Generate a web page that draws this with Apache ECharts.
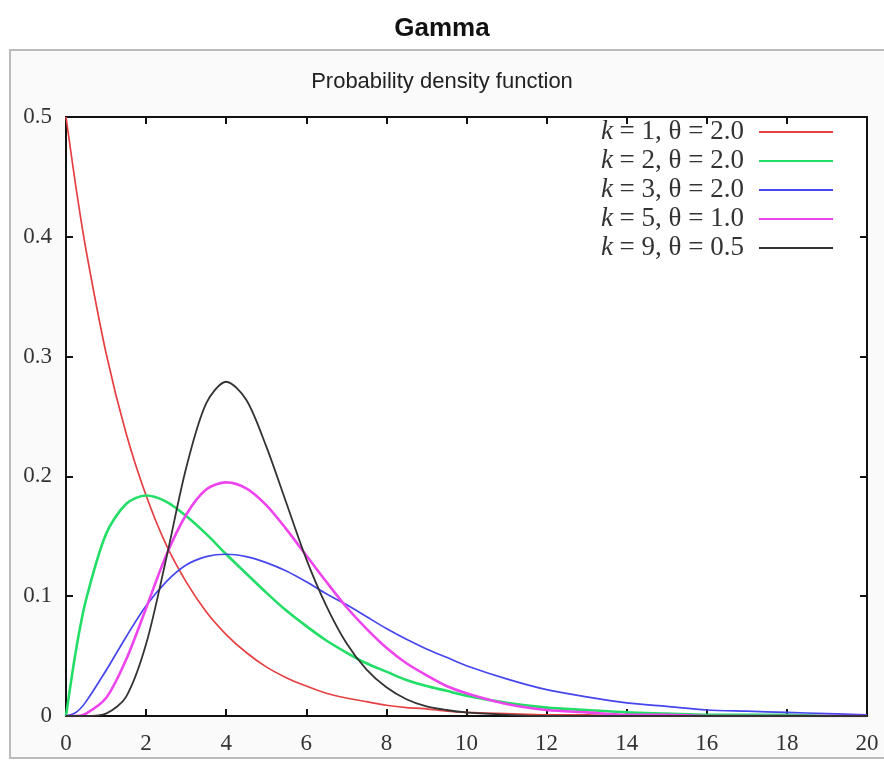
<!DOCTYPE html>
<html>
<head>
<meta charset="utf-8">
<script src="https://cdn.jsdelivr.net/npm/echarts@6/dist/echarts.min.js"></script>
<style>
html,body{margin:0;padding:0;background:#ffffff;}
#chart{width:884px;height:761px;}
</style>
</head>
<body>
<div id="chart"></div>
<script>
// x positions at which values were read
var xs = [0, 0.25, 0.5, 1, 1.5, 2, 2.5, 3, 3.5, 4, 4.5, 5, 5.5, 6, 6.5, 7, 7.5, 8, 8.5, 9, 9.5, 10, 11, 12, 13, 14, 15, 16, 17, 18, 19, 20];
var seriesNames = ['k = 1, θ = 2.0', 'k = 2, θ = 2.0', 'k = 3, θ = 2.0', 'k = 5, θ = 1.0', 'k = 9, θ = 0.5'];
var red   = [0.500, 0.441, 0.389, 0.303, 0.236, 0.184, 0.143, 0.112, 0.087, 0.068, 0.053, 0.041, 0.032, 0.025, 0.019, 0.015, 0.012, 0.009, 0.007, 0.006, 0.004, 0.003, 0.002, 0.001, 0.001, 0.000, 0.000, 0.000, 0.000, 0.000, 0.000, 0.000];
var green = [0.000, 0.055, 0.097, 0.152, 0.177, 0.184, 0.179, 0.167, 0.152, 0.135, 0.119, 0.103, 0.088, 0.075, 0.063, 0.053, 0.044, 0.037, 0.030, 0.025, 0.021, 0.017, 0.011, 0.007, 0.005, 0.003, 0.002, 0.001, 0.001, 0.001, 0.000, 0.000];
var blue  = [0.000, 0.003, 0.012, 0.038, 0.066, 0.092, 0.112, 0.126, 0.133, 0.135, 0.133, 0.128, 0.121, 0.112, 0.102, 0.093, 0.083, 0.073, 0.064, 0.056, 0.049, 0.042, 0.031, 0.022, 0.016, 0.011, 0.008, 0.005, 0.004, 0.003, 0.002, 0.001];
var magenta = [0.000, 0.000, 0.002, 0.015, 0.047, 0.090, 0.134, 0.168, 0.189, 0.195, 0.190, 0.176, 0.156, 0.134, 0.112, 0.091, 0.073, 0.057, 0.044, 0.034, 0.025, 0.019, 0.010, 0.005, 0.003, 0.001, 0.001, 0.000, 0.000, 0.000, 0.000, 0.000];
var black = [0.000, 0.000, 0.000, 0.002, 0.016, 0.060, 0.131, 0.207, 0.261, 0.279, 0.264, 0.225, 0.178, 0.131, 0.092, 0.061, 0.039, 0.024, 0.014, 0.008, 0.005, 0.003, 0.001, 0.000, 0.000, 0.000, 0.000, 0.000, 0.000, 0.000, 0.000, 0.000];
var xTicks = [0, 2, 4, 6, 8, 10, 12, 14, 16, 18, 20];
var yTicks = [0, 0.1, 0.2, 0.3, 0.4, 0.5];

var seriesValues = [red, green, blue, magenta, black];
var colors = ['#e64044', '#22dd66', '#4646ee', '#ee44ee', '#333333'];
var widths = [1.7, 2.6, 1.7, 2.6, 1.8];

function pairs(vals) {
  return xs.map(function (x, i) { return [x, vals[i]]; });
}

var chart = echarts.init(document.getElementById('chart'), null, {renderer: 'canvas'});

var serif = '"Liberation Serif", "DejaVu Serif", serif';
var axisCommon = {
  min: 0,
  axisLine: {show: true, onZero: false, lineStyle: {color: '#111', width: 2}},
  axisTick: {show: true, inside: true, length: 7, lineStyle: {color: '#111', width: 2}},
  splitLine: {show: false}
};

var option = {
  backgroundColor: '#ffffff',
  animation: false,
  title: [
    {text: 'Gamma', left: 'center', top: 11,
     textStyle: {fontFamily: '"Liberation Sans", Arial, sans-serif', fontWeight: 'bold', fontSize: 26, color: '#111'}},
    {text: 'Probability density function', left: 'center', top: 66,
     textStyle: {fontFamily: '"Liberation Sans", Arial, sans-serif', fontWeight: 'normal', fontSize: 22, color: '#222'}}
  ],
  graphic: [
    {type: 'rect', z: -10, shape: {x: 10, y: 50, width: 890, height: 708},
     style: {fill: '#fafafa', stroke: '#bbbbbb', lineWidth: 2}}
  ],
  grid: {left: 66, right: 17, top: 117, bottom: 45, show: true, backgroundColor: '#ffffff', borderWidth: 0},
  xAxis: [
    Object.assign({}, axisCommon, {
      type: 'value', max: 20, interval: 2, position: 'bottom',
      axisLabel: {fontFamily: serif, fontSize: 23, color: '#333', margin: 16,
        formatter: function (v) { return xTicks.indexOf(v) >= 0 ? String(v) : ''; }}
    }),
    Object.assign({}, axisCommon, {
      type: 'value', max: 20, interval: 2, position: 'top', axisLabel: {show: false}
    })
  ],
  yAxis: [
    Object.assign({}, axisCommon, {
      type: 'value', max: 0.5, interval: 0.1, position: 'left',
      axisLabel: {fontFamily: serif, fontSize: 23, color: '#333', margin: 14,
        formatter: function (v) { var r = Math.round(v * 10) / 10; return yTicks.indexOf(r) >= 0 ? String(r) : ''; }}
    }),
    Object.assign({}, axisCommon, {
      type: 'value', max: 0.5, interval: 0.1, position: 'right', axisLabel: {show: false}
    })
  ],
  legend: {
    orient: 'vertical',
    right: 46,
    top: 113,
    align: 'right',
    itemWidth: 74,
    itemHeight: 2,
    itemGap: 1,
    icon: 'rect',
    data: seriesNames,
    formatter: function (name) {
      return '{i|k}{t|' + name.slice(1) + '}';
    },
    textStyle: {
      fontFamily: serif, fontSize: 27, color: '#333', lineHeight: 28,
      rich: {
        i: {fontFamily: serif, fontStyle: 'italic', fontSize: 27, lineHeight: 28, color: '#333'},
        t: {fontFamily: serif, fontSize: 27, lineHeight: 28, color: '#333', padding: [0, 10, 0, 0]}
      }
    }
  },
  series: seriesNames.map(function (n, i) {
    return {
      name: n,
      type: 'line',
      xAxisIndex: 0,
      yAxisIndex: 0,
      data: pairs(seriesValues[i]),
      smooth: 0.3,
      showSymbol: false,
      symbol: 'none',
      color: colors[i],
      lineStyle: {color: colors[i], width: widths[i]},
      clip: true
    };
  })
};
chart.setOption(option);
</script>
</body>
</html>
